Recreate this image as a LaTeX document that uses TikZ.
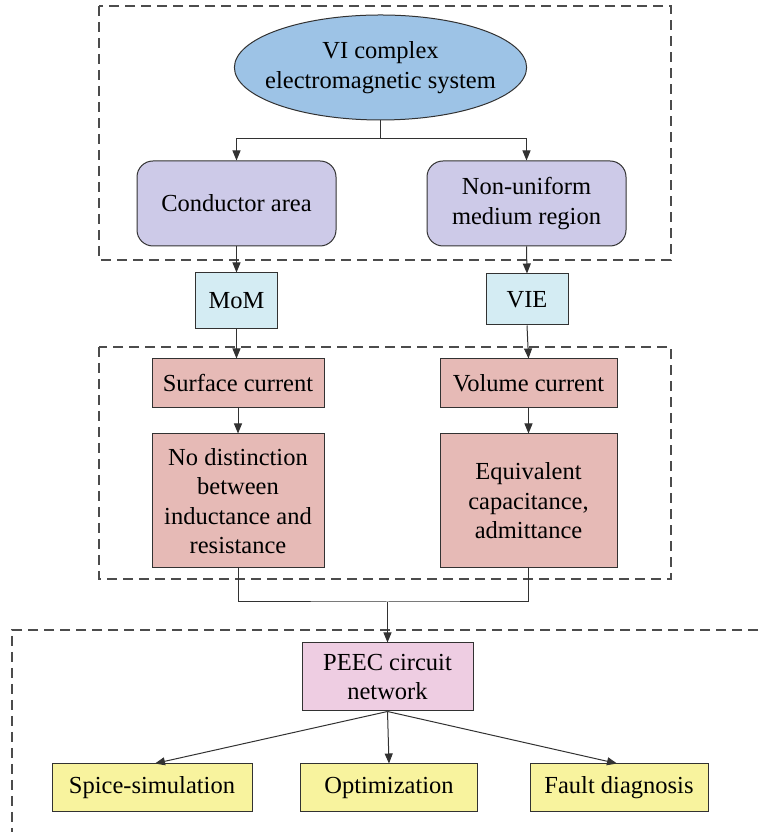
\documentclass[tikz,border=0pt]{standalone}
\usepackage{fontspec}
\setmainfont{Liberation Serif}
\usepackage{tikz}
\usetikzlibrary{arrows, arrows.meta, positioning, shapes, fit, backgrounds}
\definecolor{sysblue}{RGB}{157,195,230}
\definecolor{regionpurple}{RGB}{205,202,232}
\definecolor{methodcyan}{RGB}{212,236,243}
\definecolor{currentred}{RGB}{230,186,182}
\definecolor{netpink}{RGB}{238,205,226}
\definecolor{appyellow}{RGB}{248,243,158}
\definecolor{edgegray}{RGB}{50,50,50}

\begin{document}
\begin{tikzpicture}[
		font=\fontsize{24.5}{29.4}\selectfont,
		every node/.style={draw=edgegray, line width=1pt, align=center, inner sep=0pt},
		sysnode/.style={ellipse, fill=sysblue, inner xsep=-12pt, minimum width=292pt, minimum height=105pt},
		regionbox/.style={rectangle, rounded corners=16pt, fill=regionpurple, minimum width=199pt, minimum height=85pt},
		methodbox/.style={rectangle, fill=methodcyan, minimum width=82pt},
		currentbox/.style={rectangle, fill=currentred},
		netbox/.style={rectangle, fill=netpink, minimum width=171pt, minimum height=68pt},
		appbox/.style={rectangle, fill=appyellow, minimum height=48pt},
		arr/.style={draw=edgegray, line width=1pt, -{Triangle[length=10pt, width=8pt]}},
		link/.style={draw=edgegray, line width=1pt},
		group/.style={draw=black!70, line width=1.4pt, dash pattern=on 10pt off 6pt}
	]
		\useasboundingbox (0,0) rectangle (758pt, 832pt);

		%groups:
		\draw[group] (99pt, 826pt) rectangle (671pt, 572pt);
		\draw[group] (99pt, 485pt) rectangle (671pt, 253pt);
		\draw[group] (758pt, 202pt) -- (12pt, 202pt) -- (12pt, 0pt);

		%system and regions:
		\node[sysnode] (sys) at (380.5pt, 764.5pt) {VI complex\\electromagnetic system};
		\node[regionbox] (cond) at (236.5pt, 628.5pt) {Conductor area};
		\node[regionbox] (nonu) at (526.5pt, 628.5pt) {Non-uniform\\medium region};
		\coordinate (split) at (380.5pt, 693pt);

		%methods:
		\node[methodbox, minimum height=56pt] (mom) at (236.5pt, 531pt) {MoM};
		\node[methodbox, minimum height=51pt] (vie) at (527pt, 532.5pt) {VIE};

		%currents:
		\node[currentbox, minimum width=172pt, minimum height=49pt] (surf) at (238pt, 448.5pt) {Surface current};
		\node[currentbox, minimum width=177pt, minimum height=49pt] (vol) at (528.5pt, 448.5pt) {Volume current};
		\node[currentbox, minimum width=172pt, minimum height=134pt] (nodist) at (238pt, 331pt) {No distinction\\between\\inductance and\\resistance};
		\node[currentbox, minimum width=177pt, minimum height=134pt] (equiv) at (528.5pt, 331pt) {Equivalent\\capacitance,\\admittance};

		%network and applications:
		\node[netbox] (peec) at (387.5pt, 155pt) {PEEC circuit\\network};
		\coordinate (merge) at (387.5pt, 230pt);
		\node[appbox, minimum width=200pt] (spice) at (152pt, 44pt) {Spice-simulation};
		\node[appbox, minimum width=177pt] (opt) at (389pt, 44pt) {Optimization};
		\node[appbox, minimum width=178pt] (fault) at (619pt, 44pt) {Fault diagnosis};

		%connectors:
		\draw[link] (sys.south) -- (split);
		\draw[arr] (split) -| (cond.north);
		\draw[arr] (split) -| (nonu.north);
		\draw[arr] (cond.south) -- (mom.north);
		\draw[arr] (nonu.south) -- (vie.north);
		\draw[arr] (mom.south) -- (surf.north -| mom.south);
		\draw[arr] (vie.south) -- (vol.north);
		\draw[arr] (surf) -- (nodist);
		\draw[arr] (vol) -- (equiv);
		\draw[link] (nodist.south) |- (merge) -| (equiv.south);
		\draw[arr] (merge) -- (peec.north);
		\draw[arr] (peec.south) -- ([xshift=3pt]spice.north);
		\draw[arr] (peec.south) -- (opt.north);
		\draw[arr] (peec.south) -- ([xshift=-2pt]fault.north);
	\end{tikzpicture}
\end{document}
